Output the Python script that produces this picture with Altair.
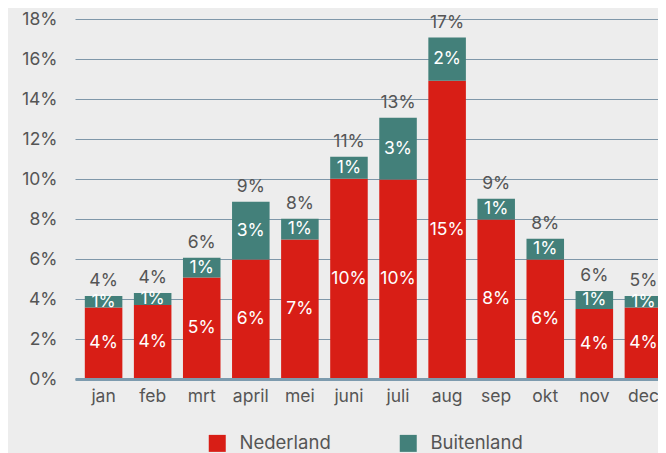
import altair as alt
import pandas as pd

months = ["jan", "feb", "mrt", "april", "mei", "juni", "juli", "aug", "sep", "okt", "nov", "dec"]
series = ["Nederland", "Buitenland"]
colors = ["#d81e16", "#43807a"]

nl = [3.57, 3.70, 5.07, 5.97, 6.97, 10.01, 9.98, 14.91, 7.97, 5.97, 3.50, 3.57]
bl = [0.58, 0.60, 0.99, 2.89, 1.04, 1.10, 3.08, 2.16, 1.04, 1.04, 0.90, 0.58]
nl_labels = ["4%", "4%", "5%", "6%", "7%", "10%", "10%", "15%", "8%", "6%", "4%", "4%"]
bl_labels = ["1%", "1%", "1%", "3%", "1%", "1%", "3%", "2%", "1%", "1%", "1%", "1%"]
tot_labels = ["4%", "4%", "6%", "9%", "8%", "11%", "13%", "17%", "9%", "8%", "6%", "5%"]
y_ticks = [0, 2, 4, 6, 8, 10, 12, 14, 16, 18]

rows = []
for i, m in enumerate(months):
    rows.append({"month": m, "series": series[0], "idx": 0, "value": nl[i],
                 "mid": nl[i] / 2, "label": nl_labels[i]})
    rows.append({"month": m, "series": series[1], "idx": 1, "value": bl[i],
                 "mid": nl[i] + bl[i] / 2, "label": bl_labels[i]})
df = pd.DataFrame(rows)
tot = pd.DataFrame({"month": months, "total": [a + b for a, b in zip(nl, bl)], "label": tot_labels})

FONT = "Inter"
TXT = "#555555"
FS = 17.5

xscale = alt.Scale(domain=months, paddingInner=0.235, paddingOuter=0.2, range=[0, 597])
yscale = alt.Scale(domain=[0, 18])

xaxis = alt.Axis(title=None, labelAngle=0, domainWidth=3, domainColor="#7d9bae",
                 ticks=False, labelPadding=8, labelFontSize=FS, labelColor=TXT,
                 labelFont=FONT, zindex=1)
yaxis = alt.Axis(title=None, values=y_ticks, labelExpr="datum.value + '%'",
                 grid=True, gridColor="#7f97a9", gridWidth=1, domain=False,
                 ticks=False, labelPadding=18, labelOverlap=False,
                 labelFontSize=FS, labelColor=TXT, labelFont=FONT)

bars = alt.Chart(df).mark_bar().encode(
    x=alt.X("month:N", sort=months, scale=xscale, axis=xaxis),
    y=alt.Y("value:Q", stack="zero", scale=yscale, axis=yaxis),
    color=alt.Color("series:N", scale=alt.Scale(domain=series, range=colors),
                    legend=alt.Legend(title=None, orient="none", legendX=133, legendY=415,
                                      direction="horizontal", symbolType="square",
                                      symbolSize=289, symbolStrokeWidth=0, labelFontSize=18.5,
                                      labelOffset=13, columnPadding=68, labelColor=TXT,
                                      labelFont=FONT)),
    order=alt.Order("idx:Q"),
)

seg = alt.Chart(df).mark_text(color="white", fontSize=FS, font=FONT, baseline="middle").encode(
    x=alt.X("month:N", sort=months, scale=xscale, axis=xaxis),
    y=alt.Y("mid:Q", scale=yscale, axis=yaxis),
    text="label:N",
)

tops = alt.Chart(tot).mark_text(color=TXT, fontSize=FS, font=FONT, baseline="middle", dy=-15).encode(
    x=alt.X("month:N", sort=months, scale=xscale, axis=xaxis),
    y=alt.Y("total:Q", scale=yscale, axis=yaxis),
    text="label:N",
)

chart = alt.layer(bars, seg, tops).properties(
    width=583, height=360, background="#ededed",
    autosize=alt.AutoSizeParams(type="none"),
    padding={"left": 67, "top": 11, "right": 0, "bottom": 75},
).configure_view(stroke=None)

chart.save("out.html", embed_options={"renderer": "svg", "actions": False})
